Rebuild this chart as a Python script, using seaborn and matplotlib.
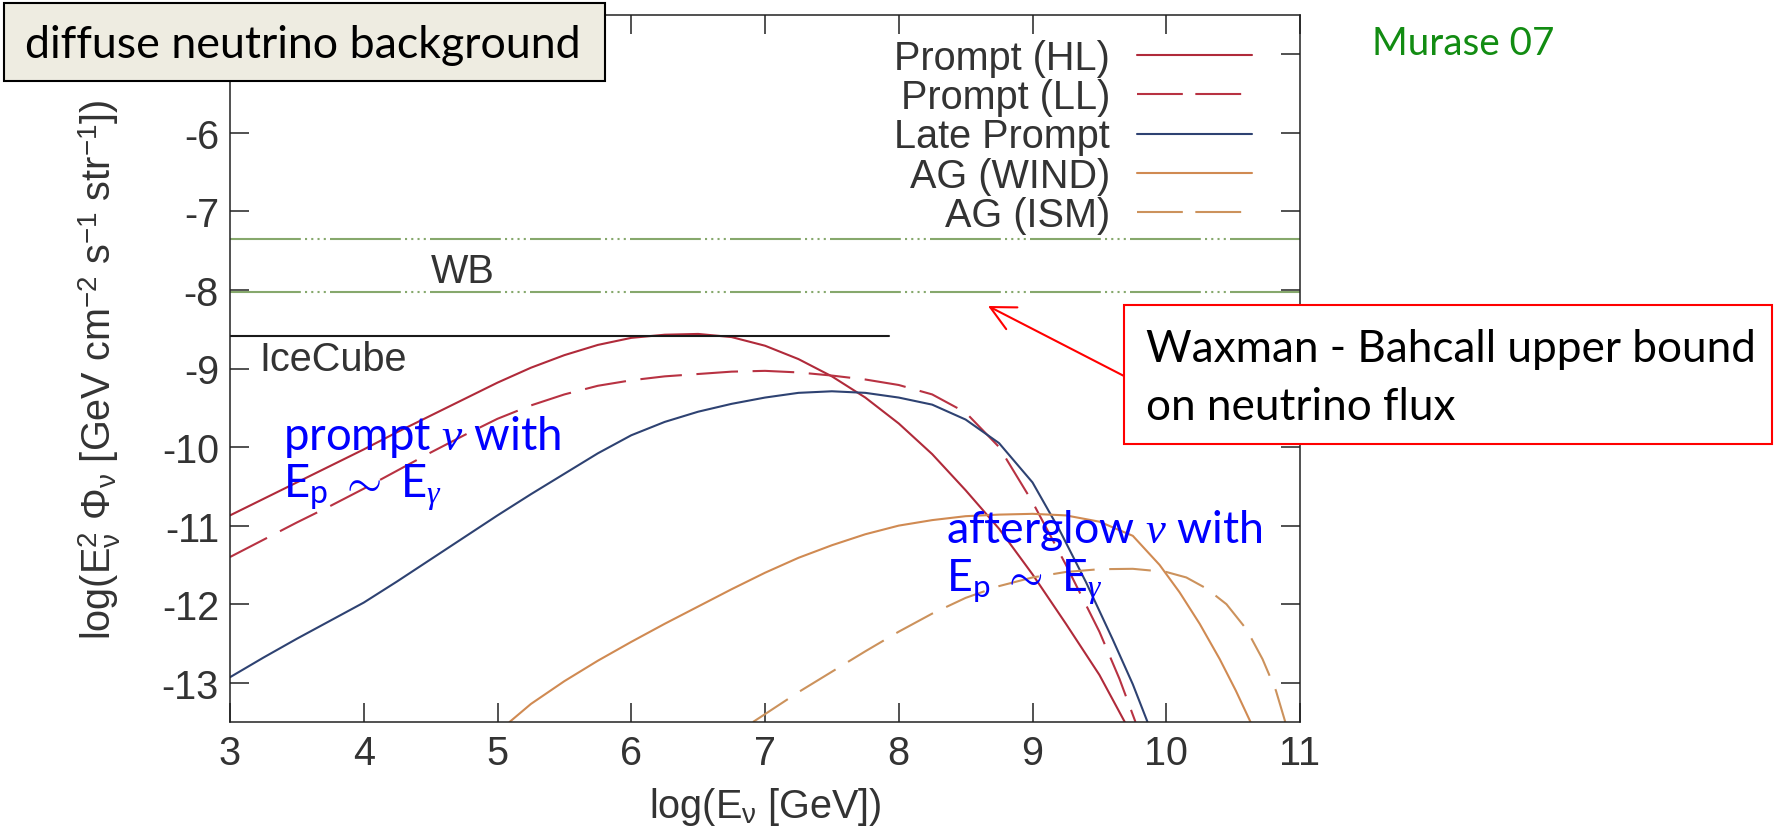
import numpy as np
import pandas as pd
import matplotlib
matplotlib.use("Agg")
import matplotlib.pyplot as plt
import seaborn as sns
from matplotlib.patches import Rectangle, FancyArrowPatch

# ---------------- data ----------------
hl_x = [3.0, 3.25, 3.5, 3.75, 4.0, 4.25, 4.5, 4.75, 5.0, 5.25, 5.5, 5.75, 6.0, 6.25,
        6.5, 6.75, 7.0, 7.25, 7.5, 7.75, 8.0, 8.25, 8.5, 8.75, 9.0, 9.25, 9.5, 9.69]
hl_y = [-10.87, -10.66, -10.45, -10.24, -10.03, -9.81, -9.60, -9.39, -9.18, -8.99,
        -8.83, -8.70, -8.61, -8.57, -8.56, -8.60, -8.71, -8.88, -9.10, -9.37, -9.70,
        -10.09, -10.55, -11.04, -11.62, -12.25, -12.90, -13.50]

ll_x = [3.0, 3.25, 3.5, 3.75, 4.0, 4.25, 4.5, 4.75, 5.0, 5.25, 5.5, 5.75, 6.0, 6.25,
        6.5, 6.75, 7.0, 7.25, 7.5, 7.75, 8.0, 8.25, 8.5, 8.75, 9.0, 9.25, 9.5, 9.65,
        9.77]
ll_y = [-11.40, -11.18, -10.96, -10.75, -10.53, -10.30, -10.07, -9.85, -9.64, -9.47,
        -9.33, -9.22, -9.15, -9.10, -9.07, -9.04, -9.03, -9.05, -9.09, -9.14, -9.21,
        -9.33, -9.56, -10.00, -10.70, -11.50, -12.35, -12.95, -13.50]

late_x = [3.0, 3.25, 3.5, 3.75, 4.0, 4.25, 4.5, 4.75, 5.0, 5.25, 5.5, 5.75, 6.0, 6.25,
          6.5, 6.75, 7.0, 7.25, 7.5, 7.75, 8.0, 8.25, 8.5, 8.75, 9.0, 9.2, 9.4, 9.6,
          9.75, 9.86]
late_y = [-12.93, -12.68, -12.44, -12.21, -11.98, -11.71, -11.43, -11.15, -10.87,
          -10.60, -10.34, -10.08, -9.85, -9.68, -9.55, -9.45, -9.37, -9.31, -9.29,
          -9.31, -9.37, -9.46, -9.65, -9.95, -10.45, -11.05, -11.72, -12.45, -13.02,
          -13.50]

wind_x = [5.09, 5.25, 5.5, 5.75, 6.0, 6.25, 6.5, 6.75, 7.0, 7.25, 7.5, 7.75, 8.0, 8.25,
          8.5, 8.75, 9.0, 9.25, 9.5, 9.75, 9.95, 10.1, 10.25, 10.4, 10.52, 10.63]
wind_y = [-13.50, -13.27, -12.98, -12.72, -12.48, -12.25, -12.03, -11.81, -11.60,
          -11.41, -11.25, -11.11, -11.00, -10.93, -10.88, -10.86, -10.85, -10.87,
          -10.95, -11.13, -11.50, -11.85, -12.25, -12.70, -13.10, -13.50]

ism_x = [6.91, 7.0, 7.25, 7.5, 7.75, 8.0, 8.25, 8.5, 8.75, 9.0, 9.25, 9.5, 9.75, 10.0,
         10.15, 10.3, 10.45, 10.6, 10.72, 10.82, 10.89]
ism_y = [-13.50, -13.40, -13.12, -12.86, -12.60, -12.35, -12.12, -11.92, -11.77,
         -11.66, -11.59, -11.555, -11.55, -11.59, -11.66, -11.80, -12.00, -12.32,
         -12.70, -13.10, -13.50]

series_labels = ["Prompt (HL)", "Prompt (LL)", "Late Prompt", "AG (WIND)", "AG (ISM)"]

wb_levels = [-7.35, -8.03]
icecube_level = -8.59
icecube_xrange = [3.0, 7.93]

x_ticks = [3, 4, 5, 6, 7, 8, 9, 10, 11]
y_ticks = [-13, -12, -11, -10, -9, -8, -7, -6, -5]
y_ticklabels = ["-13", "-12", "-11", "-10", "-9", "-8", "-7", "-6", ""]

# ---------------- style ----------------
sns.set_style("ticks")
plt.rcParams["font.family"] = ["Liberation Sans", "DejaVu Sans"]
plt.rcParams["axes.unicode_minus"] = False
plt.rcParams["mathtext.fontset"] = "custom"
plt.rcParams["mathtext.rm"] = "Lato"
plt.rcParams["mathtext.it"] = "Liberation Serif:italic"
plt.rcParams["mathtext.bf"] = "Lato:bold"

W, H = 1775, 829
fig = plt.figure(figsize=(W / 100, H / 100), dpi=100)
fig.patch.set_facecolor("white")
ax = fig.add_axes([230 / W, 1 - 723 / H, 1070 / W, 707 / H])
ax.set_facecolor("white")

GFS = 28.5
TXT = "#333333"
DASH = (0, (20, 7))

specs = [
    (hl_x, hl_y, "#b02a3a", "-"),
    (ll_x, ll_y, "#b83242", DASH),
    (late_x, late_y, "#2e4272", "-"),
    (wind_x, wind_y, "#d08a52", "-"),
    (ism_x, ism_y, "#cc925c", DASH),
]
handles = []
for (xs, ys, col, ls), lab in zip(specs, series_labels):
    df = pd.DataFrame({"x": xs, "y": ys})
    sns.lineplot(data=df, x="x", y="y", ax=ax, color=col, linewidth=1.5,
                 linestyle=ls, estimator=None, sort=False, label=lab, legend=False)
    handles.append(ax.get_lines()[-1])

# WB bounds and IceCube limit
for lev in wb_levels:
    ax.axhline(lev, color="#86a86c", lw=1.5,
               ls=(0, (34, 2, 1, 2, 1, 2, 1, 2, 1, 2)))
ax.plot(icecube_xrange, [icecube_level, icecube_level], color="#1a1a1a", lw=1.5)

ax.text(4.74, -7.76, "WB", fontsize=GFS, color=TXT, ha="center", va="center")
ax.text(3.22, -8.88, "IceCube", fontsize=GFS, color=TXT, ha="left", va="center")

ax.set_xlim(3, 11)
ax.set_ylim(-13.5, -4.5)
ax.set_xticks(x_ticks)
ax.set_yticks(y_ticks)
ax.set_xticklabels([str(v) for v in x_ticks])
ax.set_yticklabels(y_ticklabels)
ax.tick_params(direction="in", length=13.7, width=1.1, top=True, right=True,
               labelsize=GFS, labelcolor=TXT, color="#222222")
ax.tick_params(axis="x", pad=9)
ax.tick_params(axis="y", pad=8)
for s in ax.spines.values():
    s.set_linewidth(1.1)
    s.set_color("#222222")
    s.set_visible(True)

ax.set_xlabel(r"log(E$_\mathregular{ν}$ [GeV])", fontsize=GFS, color=TXT, labelpad=9)
ax.set_ylabel(r"log(E$_\mathregular{ν}^\mathregular{2}$ Φ$_\mathregular{ν}$ [GeV cm$^\mathregular{-2}$ s$^\mathregular{-1}$ str$^\mathregular{-1}$])",
              fontsize=GFS, color=TXT, labelpad=28)

leg = ax.legend(handles, series_labels, loc="upper right", bbox_to_anchor=(0.955, 0.966),
                frameon=False, markerfirst=False, fontsize=GFS, handlelength=2.9,
                handletextpad=0.68, labelspacing=0.03, borderpad=0, borderaxespad=0)
for t in leg.get_texts():
    t.set_color(TXT)
for ln, (_, _, _, ls) in zip(leg.get_lines(), specs):
    if ls != "-":
        ln.set_linestyle((0, (22, 6)))

# ---------------- slide overlays ----------------
def fx(px):
    return px / W

def fy(py):
    return 1 - py / H

fig.add_artist(Rectangle((fx(4), fy(82)), (605 - 4) / W, (82 - 4) / H,
                         transform=fig.transFigure, facecolor="#eeece1",
                         edgecolor="black", lw=1.5, zorder=5))
fig.add_artist(Rectangle((fx(1124), fy(445)), (1772 - 1124) / W, (445 - 306) / H,
                         transform=fig.transFigure, facecolor="white",
                         edgecolor="#ff0000", lw=1.5, zorder=5))
fig.add_artist(FancyArrowPatch((fx(1124), fy(377)), (fx(988), fy(307)),
                               transform=fig.transFigure, color="#ff0000", lw=1.5,
                               arrowstyle="->,head_length=0.8,head_width=0.4",
                               mutation_scale=22, shrinkA=0, shrinkB=0, zorder=6))

SF = ["Lato", "DejaVu Sans"]
t_diff = fig.text(fx(25), fy(58), "diffuse neutrino background", family=SF, fontsize=30,
                  color="black", ha="left", va="baseline", zorder=7)
t_mur = fig.text(fx(1372), fy(55), "Murase 07", family=SF, fontsize=30,
                 color="#128c12", ha="left", va="baseline", zorder=7)
t_wb1 = fig.text(fx(1146), fy(362), "Waxman - Bahcall upper bound", family=SF,
                 fontsize=30, color="black", ha="left", va="baseline", zorder=7)
t_wb2 = fig.text(fx(1146), fy(420), "on neutrino flux", family=SF,
                 fontsize=30, color="black", ha="left", va="baseline", zorder=7)
t_p1 = fig.text(fx(283), fy(450), r"prompt $\nu$ with", family=SF, fontsize=30,
                color="#0000ff", ha="left", va="baseline", zorder=7)
t_p2 = fig.text(fx(283), fy(498), r"E$_\mathrm{p}$ $\sim$ E$_\gamma$", family=SF,
                fontsize=30, color="#0000ff", ha="left", va="baseline", zorder=7)
t_a1 = fig.text(fx(946), fy(543), r"afterglow $\nu$ with", family=SF, fontsize=30,
                color="#0000ff", ha="left", va="baseline", zorder=7)
t_a2 = fig.text(fx(946), fy(592), r"E$_\mathrm{p}$ $\sim$ E$_\gamma$", family=SF,
                fontsize=30, color="#0000ff", ha="left", va="baseline", zorder=7)

fig.canvas.draw()
r = fig.canvas.get_renderer()

def fit(t, wpx, others=()):
    bb = t.get_window_extent(r)
    fs = t.get_fontsize() * wpx / bb.width
    t.set_fontsize(fs)
    for o in others:
        o.set_fontsize(fs)

fit(t_diff, 556)
fit(t_mur, 182)
fit(t_wb1, 610, [t_wb2])
fit(t_p1, 278, [t_p2])
fit(t_a1, 316, [t_a2])

fig.savefig("out.png", dpi=100, facecolor="white")
